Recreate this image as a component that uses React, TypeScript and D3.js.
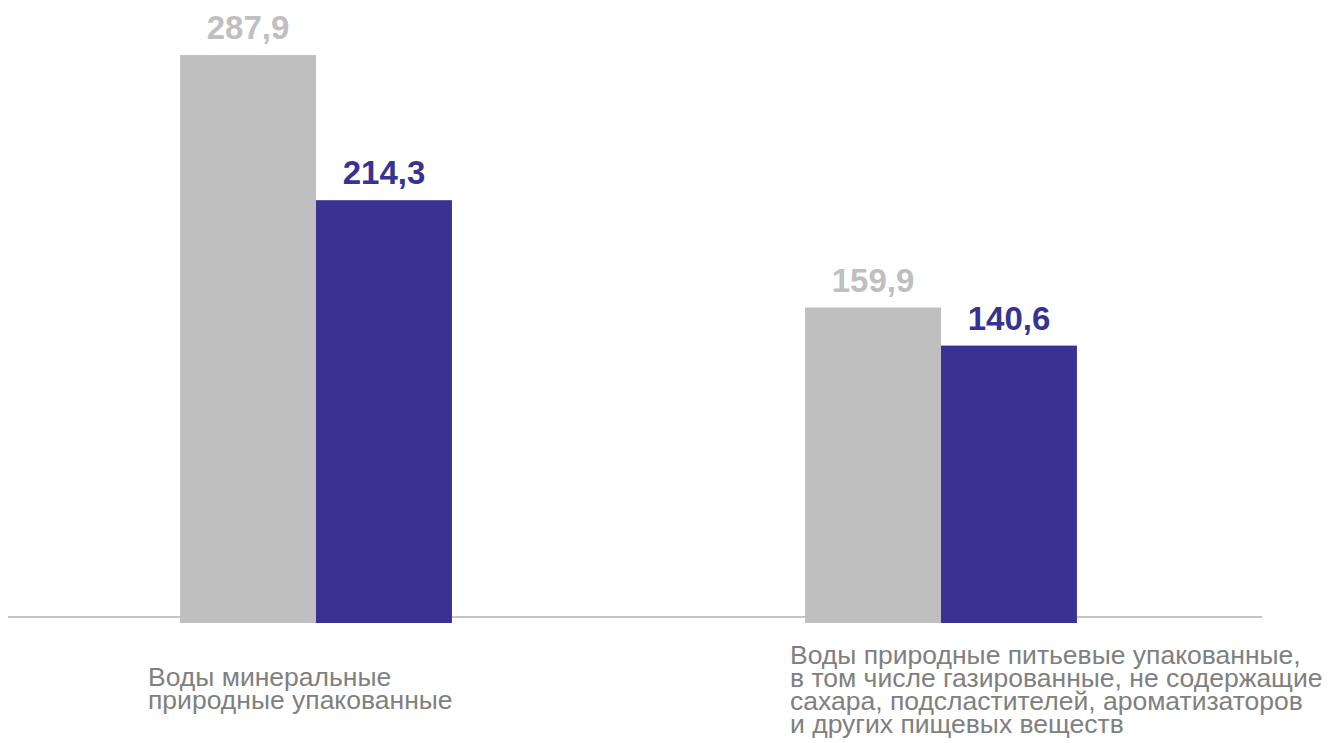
import React from "react";
import * as d3 from "d3";

const categories = [
  ["Воды минеральные", "природные упакованные"],
  [
    "Воды природные питьевые упакованные,",
    "в том числе газированные, не содержащие",
    "сахара, подсластителей, ароматизаторов",
    "и других пищевых веществ",
  ],
];
const categoryKeys = ["mineral", "drinking"];
const seriesKeys = ["prev", "curr"];
const prevValues = [287.9, 159.9];
const currValues = [214.3, 140.6];
const seriesColors = ["#bfbfbf", "#373294"];

const W = 1332;
const H = 743;

export default function App() {
  const x0 = d3.scaleBand<string>().domain(categoryKeys).range([3.5, 1253.5]).padding(0);
  const groupW = x0.bandwidth() * 0.435;
  const x1 = d3.scaleBand<string>().domain(seriesKeys).range([0, groupW]).padding(0);
  const y = d3.scaleLinear().domain([0, 287.9]).range([623, 55]);
  const values = [prevValues, currValues];
  const fmt = (v: number) => v.toFixed(1).replace(".", ",");
  const labelX = [148, 790];
  const labelY = [686, 664];

  return (
    <svg
      width={W}
      height={H}
      style={{ position: "absolute", left: 0, top: 0, background: "#fff" }}
      fontFamily="Liberation Sans, Arial, sans-serif"
    >
      <line x1={8} x2={1262} y1={617} y2={617} stroke="#c4c4c4" strokeWidth={2} />
      {categoryKeys.map((c, ci) => {
        const gx = (x0(c) as number) + x0.bandwidth() / 2 - groupW / 2;
        return (
          <g key={c}>
            {seriesKeys.map((s, si) => {
              const v = values[si][ci];
              const bx = gx + (x1(s) as number);
              return (
                <g key={s}>
                  <rect
                    x={bx}
                    y={y(v)}
                    width={x1.bandwidth()}
                    height={y(0) - y(v)}
                    fill={seriesColors[si]}
                  />
                  <text
                    x={bx + x1.bandwidth() / 2}
                    y={y(v) - 16}
                    textAnchor="middle"
                    fontSize={33}
                    fontWeight="bold"
                    fill={seriesColors[si]}
                  >
                    {fmt(v)}
                  </text>
                </g>
              );
            })}
          </g>
        );
      })}
      {categories.map((lines, ci) => (
        <text key={ci} x={labelX[ci]} y={labelY[ci]} fontSize={26.5} fill="#808080">
          {lines.map((l, i) => (
            <tspan key={i} x={labelX[ci]} dy={i === 0 ? 0 : 23}>
              {l}
            </tspan>
          ))}
        </text>
      ))}
    </svg>
  );
}
